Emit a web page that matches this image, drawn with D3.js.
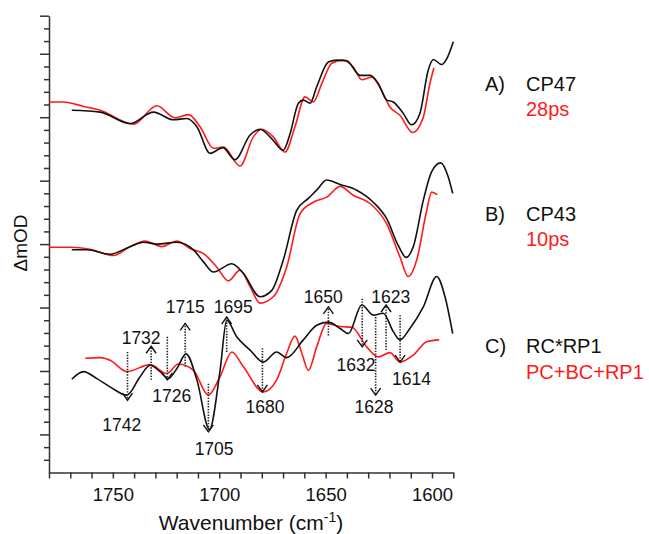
<!DOCTYPE html>
<html>
<head>
<meta charset="utf-8">
<script src="https://cdn.jsdelivr.net/npm/d3@7"></script>
<style>
  body { margin: 0; background: #fff; }
  svg { display: block; }
  text { font-family: "Liberation Sans", Arial, sans-serif; fill: #111; }
</style>
</head>
<body>
<svg id="chart" width="649" height="534"></svg>
<script>
// spectra as [wavenumber, dmOD] pairs (offset per panel)
const cp47Black = [[1769.3,5.11],[1756.0,5.08],[1741.9,4.90],[1730.9,5.08],[1721.5,4.96],[1715.2,4.98],[1710.5,4.85],[1704.3,4.43],[1698.3,4.52],[1692.6,4.33],[1685.5,4.72],[1680.8,4.81],[1675.3,4.66],[1669.9,4.48],[1666.7,4.74],[1662.8,5.22],[1660.5,5.27],[1657.3,5.22],[1654.2,5.48],[1648.7,5.87],[1644.8,5.90],[1640.1,5.89],[1633.8,5.66],[1629.1,5.66],[1625.2,5.53],[1621.3,5.27],[1618.2,5.24],[1613.5,5.06],[1609.6,4.88],[1605.7,5.06],[1601.8,5.74],[1599.4,5.91],[1595.5,5.83],[1593.1,5.92],[1590.0,6.19]]
const cp47Red = [[1780,5.24],[1773.2,5.24],[1763.8,5.17],[1756.0,5.11],[1740.3,4.89],[1729.3,5.18],[1720.7,4.99],[1714.5,5.04],[1709.0,4.85],[1702.7,4.51],[1698.0,4.53],[1690.2,4.23],[1684.0,4.69],[1680.0,4.81],[1674.6,4.69],[1669.1,4.45],[1664.4,4.85],[1659.7,5.32],[1655.8,5.24],[1651.8,5.53],[1647.1,5.85],[1641.7,5.90],[1637.0,5.79],[1633.0,5.59],[1628.3,5.63],[1623.7,5.42],[1619.8,5.16],[1615.1,5.03],[1609.1,4.76],[1604.1,5.00],[1601.0,5.53],[1599.1,5.78]]
const cp43Black = [[1769.3,2.91],[1762.2,2.91],[1751.3,2.84],[1741.9,2.96],[1735.6,3.03],[1729.3,3.00],[1719.9,3.03],[1712.1,2.91],[1707.4,2.72],[1702.7,2.56],[1694.1,2.69],[1688.7,2.54],[1680.8,2.17],[1675.3,2.27],[1669.9,2.75],[1663.6,3.53],[1658.1,3.72],[1654.2,3.85],[1649.5,4.01],[1643.2,3.94],[1635.4,3.85],[1627.6,3.66],[1621.3,3.40],[1615.9,2.98],[1612.2,2.79],[1608.8,2.96],[1604.1,3.69],[1600.2,4.14],[1595.9,4.28],[1592.4,4.06],[1590.3,3.80]]
const cp43Red = [[1780,2.95],[1770.1,2.95],[1760.7,2.92],[1749.7,2.82],[1741.9,2.96],[1734.8,3.05],[1727.0,2.96],[1719.9,3.05],[1713.7,2.93],[1707.4,2.85],[1701.2,2.64],[1695.7,2.42],[1690.2,2.59],[1685.5,2.33],[1680.8,2.07],[1674.6,2.17],[1668.3,2.64],[1662.0,3.48],[1655.8,3.66],[1649.5,3.74],[1643.2,3.91],[1637.0,3.77],[1629.1,3.64],[1621.3,3.32],[1615.1,2.80],[1611.2,2.49],[1607.2,2.75],[1602.5,3.53],[1600.2,3.82],[1597.5,3.78]]
const rcBlack = [[1769.3,0.87],[1763.8,0.99],[1757.5,0.88],[1751.3,0.75],[1743.4,0.62],[1737.2,0.91],[1732.5,1.09],[1727.8,0.99],[1723.9,0.88],[1719.9,1.04],[1715.6,1.27],[1710.5,0.86],[1704.6,0.08],[1699.6,1.01],[1696.5,1.80],[1691.8,1.54],[1685.5,1.33],[1679.3,1.14],[1673.0,1.30],[1668.3,1.21],[1660.5,1.49],[1654.2,1.72],[1648.7,1.77],[1643.2,1.67],[1639.3,1.59],[1633.0,2.04],[1627.6,1.88],[1622.9,1.91],[1618.2,1.62],[1615.1,1.49],[1610.4,1.67],[1604.1,2.01],[1597.8,2.49],[1593.9,2.17],[1590.3,1.59]]
const rcRed = [[1763.0,1.20],[1756.0,1.21],[1751.3,1.17],[1743.4,0.99],[1732.5,1.10],[1724.6,0.96],[1719.2,1.11],[1712.1,1.01],[1705.1,0.62],[1699.6,0.91],[1694.1,1.30],[1688.7,1.07],[1679.3,0.67],[1673.0,0.86],[1668.3,1.28],[1664.4,1.55],[1661.2,1.28],[1658.1,1.01],[1654.2,1.38],[1649.5,1.75],[1643.2,1.70],[1637.7,1.69],[1630.7,1.38],[1625.2,1.22],[1619.8,1.29],[1615.1,1.14],[1608.8,1.25],[1602.5,1.46],[1596.6,1.49]]

// band markers: position, line from/to (dmOD), label position
const bands = [
  {label:'1742', at:1743.1, from:1.30, to:0.54, lx:1745.8, ly:0.16},
  {label:'1732', at:1732.0, from:0.86, to:1.39, lx:1736.7, ly:1.53},
  {label:'1726', at:1724.4, from:1.54, to:0.86, lx:1722.3, ly:0.61},
  {label:'1715', at:1716.0, from:1.07, to:1.75, lx:1716.0, ly:2.02},
  {label:'1705', at:1705.1, from:0.80, to:0.04, lx:1702.4, ly:-0.23},
  {label:'1695', at:1696.5, from:1.30, to:1.85, lx:1693.4, ly:2.02},
  {label:'1680', at:1679.7, from:1.36, to:0.67, lx:1678.5, ly:0.43},
  {label:'1650', at:1648.7, from:1.56, to:2.01, lx:1651.1, ly:2.17},
  {label:'1632', at:1632.8, from:2.14, to:1.38, lx:1635.7, ly:1.10},
  {label:'1628', at:1626.5, from:1.85, to:0.62, lx:1627.3, ly:0.43},
  {label:'1623', at:1621.6, from:1.33, to:2.04, lx:1619.4, ly:2.17},
  {label:'1614', at:1615.0, from:1.88, to:1.14, lx:1609.6, ly:0.88}
]

const panelTags = ['A)', 'B)', 'C)']
const panelNames = ['CP47', 'CP43', 'RC*RP1']
const panelFits = ['28ps', '10ps', 'PC+BC+RP1']

const xTicks = d3.range(1780, 1589, -10)
const xLabels = [1750, 1700, 1650, 1600]

const svg = d3.select('#chart')

const x = d3.scaleLinear().domain([1780, 1590]).range([49, 453.3])
const y = d3.scaleLinear().domain([-0.6, 6.6]).range([472.5, 15.7])

const line = d3.line()
    .x(d => x(d[0]))
    .y(d => y(d[1]))
    .curve(d3.curveMonotoneX)

// axes
const xAxis = svg.append('g')
    .attr('transform', `translate(0,${y(-0.6)})`)
    .call(d3.axisBottom(x)
      .tickValues(xTicks)
      .tickSize(6)
      .tickSizeOuter(0)
      .tickFormat(d => xLabels.includes(d) ? d : ''))
xAxis.selectAll('text')
    .attr('y', 28.5).attr('dy', 0)
    .attr('font-size', 18.5)
    .attr('fill', '#111')

const yTicks = d3.range(-0.4, 6.61, 0.2).map(v => +v.toFixed(1))
const yAxis = svg.append('g')
    .attr('transform', `translate(${x(1780)},0)`)
    .call(d3.axisLeft(y).tickValues(yTicks).tickSizeOuter(0).tickFormat(''))
yAxis.selectAll('.tick line')
    .attr('x2', d => (Number.isInteger(d) || d === 6.6) ? -9 : -5)

svg.selectAll('.domain, .tick line')
    .attr('stroke', '#333')
    .attr('stroke-width', 1.5)

svg.append('text')
    .attr('x', 251).attr('y', 530)
    .attr('text-anchor', 'middle')
    .attr('font-size', 21)
    .call(t => {
      t.append('tspan').text('Wavenumber (cm')
      t.append('tspan').text('-1').attr('font-size', 14).attr('dy', -8)
      t.append('tspan').text(')').attr('dy', 8)
    })

svg.append('text')
    .attr('transform', `translate(27,243) rotate(-90)`)
    .attr('text-anchor', 'middle')
    .attr('font-size', 19)
    .text('ΔmOD')

// spectra
const pairs = [[cp47Black, cp47Red], [cp43Black, cp43Red], [rcBlack, rcRed]]
pairs.forEach(([blk, red]) => {
  svg.append('path').datum(red)
      .attr('d', line).attr('fill', 'none')
      .attr('stroke', '#ff1a1a').attr('stroke-width', 1.6)
  svg.append('path').datum(blk)
      .attr('d', line).attr('fill', 'none')
      .attr('stroke', '#111').attr('stroke-width', 1.6)
})

// band markers
const marks = svg.append('g')
bands.forEach(b => {
  const bx = x(b.at)
  const y0 = y(b.from), y1 = y(b.to)
  const dir = y1 < y0 ? 1 : -1   // 1 = arrow points up
  marks.append('line')
      .attr('x1', bx).attr('x2', bx)
      .attr('y1', y0).attr('y2', y1)
      .attr('stroke', '#222').attr('stroke-width', 1.6)
      .attr('stroke-dasharray', '1.4,1.4')
  marks.append('path')
      .attr('d', `M${bx - 5},${y1 + dir * 7}L${bx},${y1}L${bx + 5},${y1 + dir * 7}`)
      .attr('fill', 'none').attr('stroke', '#111').attr('stroke-width', 1.4)
  marks.append('text')
      .attr('x', x(b.lx)).attr('y', y(b.ly))
      .attr('dy', '0.36em')
      .attr('text-anchor', 'middle')
      .attr('font-size', 17.5)
      .text(b.label)
})

// panel legend
const rowY = [90.7, 220.7, 353.3]
panelTags.forEach((tag, i) => {
  svg.append('text').attr('x', 485).attr('y', rowY[i])
      .attr('font-size', 20).text(tag)
  svg.append('text').attr('x', 526).attr('y', rowY[i])
      .attr('font-size', 20).text(panelNames[i])
  svg.append('text').attr('x', 526).attr('y', rowY[i] + 25.5)
      .attr('font-size', 20).style('fill', '#ff1a1a').text(panelFits[i])
})
</script>
</body>
</html>
